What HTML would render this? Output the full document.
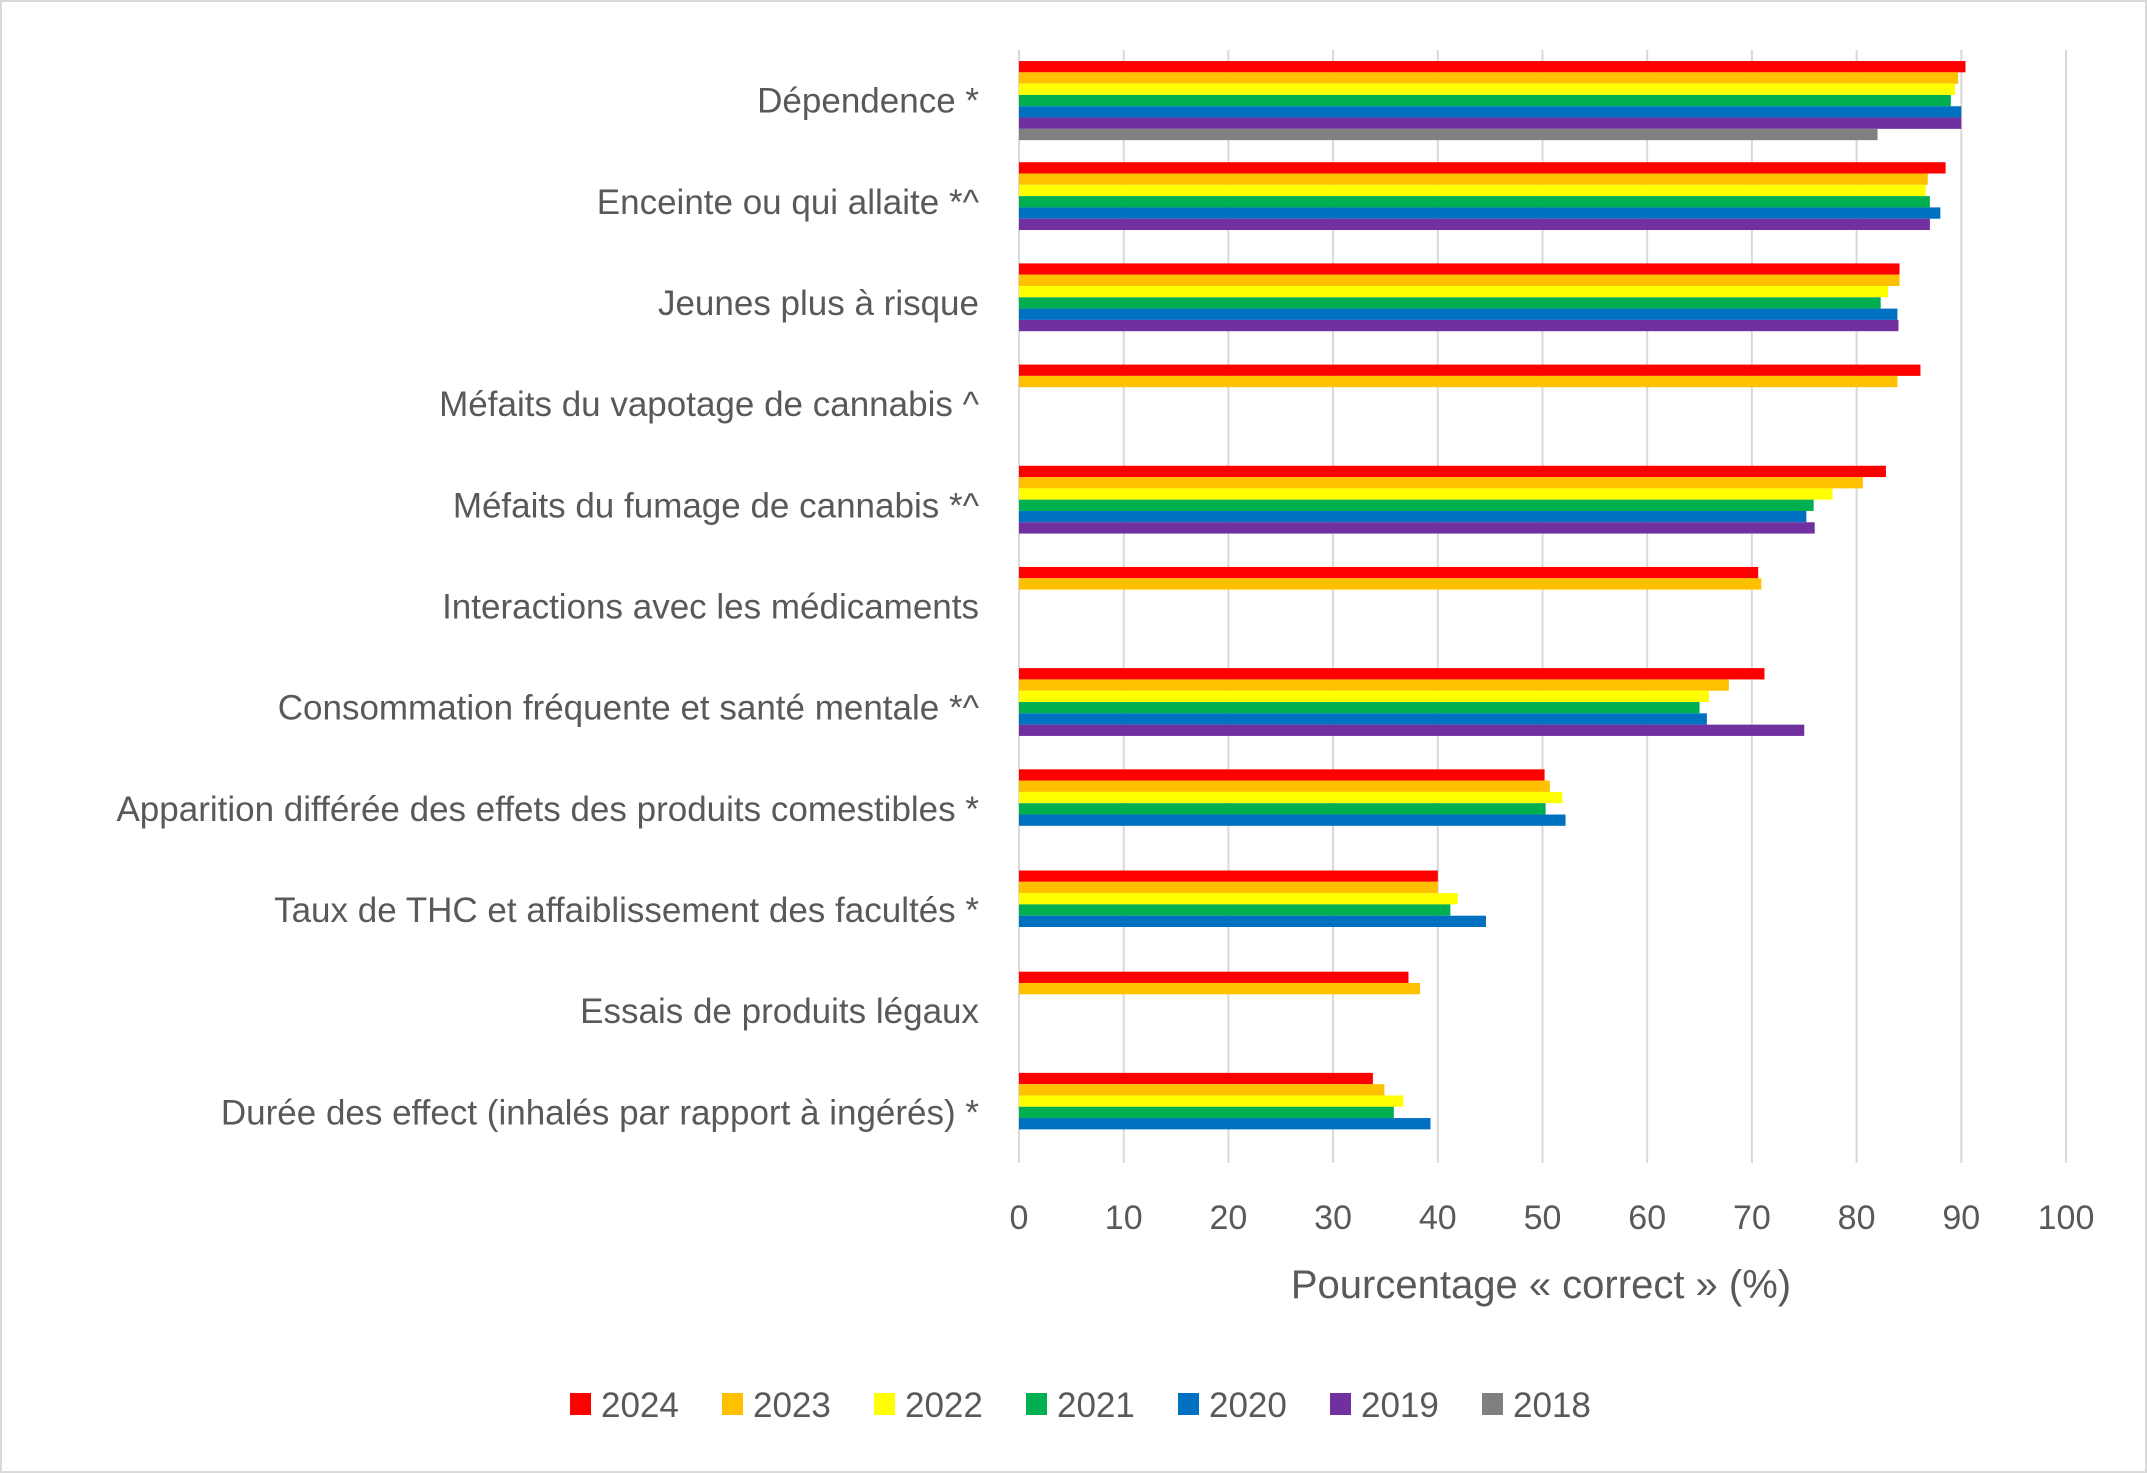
<!DOCTYPE html>
<html><head><meta charset="utf-8"><style>
html,body{margin:0;padding:0;background:#fff}
svg{display:block;font-family:"Liberation Sans",sans-serif}
</style></head><body>
<svg id="chart" width="2147" height="1473" viewBox="0 0 2147 1473">
<rect x="1" y="1" width="2145" height="1471" fill="#fff" stroke="#d9d9d9" stroke-width="2"/>
<g id="grid"></g><g id="bars"></g><g id="labels"></g><g id="legend"></g>
<text x="1541" y="1298" font-size="40" fill="#595959" text-anchor="middle">Pourcentage « correct » (%)</text>
</svg>
<script>
const categories = ["Dépendence *","Enceinte ou qui allaite *^","Jeunes plus à risque","Méfaits du vapotage de cannabis ^","Méfaits du fumage de cannabis *^","Interactions avec les médicaments","Consommation fréquente et santé mentale *^","Apparition différée des effets des produits comestibles *","Taux de THC et affaiblissement des facultés *","Essais de produits légaux","Durée des effect (inhalés par rapport à ingérés) *"];
const years = ["2024","2023","2022","2021","2020","2019","2018"];
const colors = ["#ff0000","#ffc000","#ffff00","#00b050","#0070c0","#7030a0","#808080"];
const s2024 = [90.4,88.5,84.1,86.1,82.8,70.6,71.2,50.2,40.0,37.2,33.8];
const s2023 = [89.7,86.8,84.1,83.9,80.6,70.9,67.8,50.7,40.0,38.3,34.9];
const s2022 = [89.4,86.6,83.0,null,77.7,null,65.9,51.9,41.9,null,36.7];
const s2021 = [89.0,87.0,82.3,null,75.9,null,65.0,50.3,41.2,null,35.8];
const s2020 = [90.0,88.0,83.9,null,75.2,null,65.7,52.2,44.6,null,39.3];
const s2019 = [90.0,87.0,84.0,null,76.0,null,75.0,null,null,null,null];
const s2018 = [82.0,null,null,null,null,null,null,null,null,null,null];
const series = [s2024,s2023,s2022,s2021,s2020,s2019,s2018];
const ticks = [0,10,20,30,40,50,60,70,80,90,100];

const NS="http://www.w3.org/2000/svg";
const X0=1019,X1=2066,Y0=50,Y1=1163;
const band=(Y1-Y0)/categories.length, barH=11.3, gap=(band-7*barH)/2;
const xs=v=>X0+(X1-X0)*v/100;
function mk(tag,attrs,parent){const e=document.createElementNS(NS,tag);for(const k in attrs)e.setAttribute(k,attrs[k]);parent.appendChild(e);return e;}
const grid=document.getElementById('grid'),bars=document.getElementById('bars'),labels=document.getElementById('labels'),legend=document.getElementById('legend');
ticks.forEach(t=>{
  const l=mk('line',{x1:xs(t),x2:xs(t),y1:Y0,y2:Y1,stroke:'#d9d9d9','stroke-width':2},grid);
  
  
  const tx=mk('text',{x:xs(t),y:1229,'font-size':34,fill:'#595959','text-anchor':'middle'},labels);
  tx.textContent=t;
  
  
});
categories.forEach((c,i)=>{
  const yb=Y0+i*band;
  const tx=mk('text',{x:979,y:yb+band/2+12,'font-size':35,fill:'#595959','text-anchor':'end'},labels);
  tx.textContent=c;
  
  
  series.forEach((s,j)=>{
    if(s[i]==null)return;
    const r=mk('rect',{x:X0,y:yb+gap+j*barH,width:xs(s[i])-X0,height:barH,fill:colors[j]},bars);
    
    
  });
});
years.forEach((y,j)=>{
  const x=570+j*152;
  const r=mk('rect',{x:x,y:1393,width:21,height:22,fill:colors[j]},legend);
  
  
  const t=mk('text',{x:x+31,y:1417,'font-size':35,fill:'#595959'},legend);
  t.textContent=y;
  
  
});
</script>
</body></html>
